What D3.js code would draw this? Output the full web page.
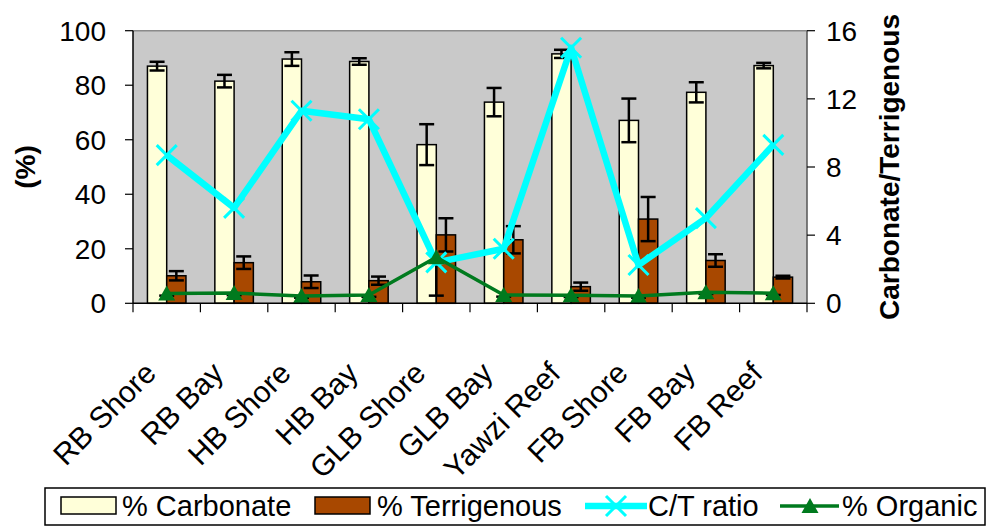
<!DOCTYPE html>
<html><head><meta charset="utf-8">
<script src="https://cdn.jsdelivr.net/npm/d3@7"></script>
<style>body{margin:0;background:#fff}svg{display:block}text{font-family:"Liberation Sans",Arial,sans-serif}</style>
</head><body><svg id="c" width="992" height="529"></svg>
<script>
const categories = ["RB Shore","RB Bay","HB Shore","HB Bay","GLB Shore","GLB Bay","Yawzi Reef","FB Shore","FB Bay","FB Reef"];
const carbonate = [87.0, 81.5, 89.6, 88.7, 58.2, 73.8, 91.5, 67.1, 77.4, 87.2];
const carbonateErr = [1.6, 2.3, 2.5, 1.2, 7.5, 5.2, 1.5, 8.0, 3.7, 1.0];
const terrigenous = [10.1, 14.9, 7.9, 8.3, 25.1, 23.3, 6.1, 30.9, 15.7, 9.6];
const terrigenousErr = [1.7, 2.3, 2.3, 1.5, 6.1, 5.0, 1.5, 8.1, 2.3, 0.5];
const ctRatio = [8.7, 5.6, 11.3, 10.8, 2.4, 3.2, 15.0, 2.25, 5.0, 9.3];
const organic = [0.57, 0.6, 0.43, 0.48, 2.7, 0.49, 0.47, 0.43, 0.65, 0.59];
const organicErrMinus = [0.12, 0.12, 0.1, 0.1, 2.25, 0.1, 0.1, 0.1, 0.1, 0.1];
const leftTicks = [0,20,40,60,80,100];
const rightTicks = [0,4,8,12,16];

const svg = d3.select("#c");
const L=133, R=807, T=30.7, B=303.3;
const x0 = d3.scaleBand().domain(categories).range([L,R]).padding(0);
const x1 = d3.scaleBand().domain(["c","t"]).range([0,x0.bandwidth()]).paddingInner(0).paddingOuter(0.75);
const yL = d3.scaleLinear().domain([0,100]).range([B,T]);
const yR = d3.scaleLinear().domain([0,16]).range([B,T]);
const cx = c => x0(c)+x0.bandwidth()/2;

svg.append("rect").attr("width",992).attr("height",529).attr("fill","#fff");
svg.append("rect").attr("x",L).attr("y",T).attr("width",R-L).attr("height",B-T).attr("fill","#c9c9c9");
svg.append("line").attr("x1",L).attr("x2",R).attr("y1",T).attr("y2",T).attr("stroke","#8a8a8a").attr("stroke-width",1.5);

// bars
const data = categories.map((c,i)=>({c,carb:carbonate[i],ce:carbonateErr[i],terr:terrigenous[i],te:terrigenousErr[i],ct:ctRatio[i],org:organic[i],oe:organicErrMinus[i]}));
const g = svg.append("g");
g.selectAll(".cb").data(data).join("rect")
 .attr("x",d=>x0(d.c)+x1("c")).attr("width",x1.bandwidth())
 .attr("y",d=>yL(d.carb)).attr("height",d=>B-yL(d.carb))
 .attr("fill","#ffffd9").attr("stroke","#000").attr("stroke-width",1.5);
g.selectAll(".tb").data(data).join("rect")
 .attr("x",d=>x0(d.c)+x1("t")).attr("width",x1.bandwidth())
 .attr("y",d=>yL(d.terr)).attr("height",d=>B-yL(d.terr))
 .attr("fill","#a84800").attr("stroke","#000").attr("stroke-width",1.5);

function errBar(xc, yTop, yBot, capTop=true){
  const e=g.append("g").attr("stroke","#000").attr("stroke-width",2.5);
  e.append("line").attr("x1",xc).attr("x2",xc).attr("y1",yTop).attr("y2",yBot);
  if(capTop) e.append("line").attr("x1",xc-7.5).attr("x2",xc+7.5).attr("y1",yTop).attr("y2",yTop);
  e.append("line").attr("x1",xc-7.5).attr("x2",xc+7.5).attr("y1",yBot).attr("y2",yBot);
}
data.forEach(d=>{
  const xc = x0(d.c)+x1("c")+x1.bandwidth()/2;
  errBar(xc, yL(d.carb+d.ce), yL(d.carb-d.ce));
  const xt = x0(d.c)+x1("t")+x1.bandwidth()/2;
  errBar(xt, yL(d.terr+d.te), yL(d.terr-d.te));
});
// organic error (minus)
data.forEach(d=>{
  const e=g.append("g").attr("stroke","#000").attr("stroke-width",2.5);
  e.append("line").attr("x1",cx(d.c)).attr("x2",cx(d.c)).attr("y1",yR(d.org)).attr("y2",yR(d.org-d.oe));
  e.append("line").attr("x1",cx(d.c)-7.5).attr("x2",cx(d.c)+7.5).attr("y1",yR(d.org-d.oe)).attr("y2",yR(d.org-d.oe));
});

// lines
const cyan="#00ffff", green="#007a1e";
svg.append("path").datum(data).attr("fill","none").attr("stroke",cyan).attr("stroke-width",6.5).attr("stroke-linejoin","round")
 .attr("d",d3.line().x(d=>cx(d.c)).y(d=>yR(d.ct)));
svg.append("g").selectAll("path").data(data).join("path")
 .attr("d",d=>{const X=cx(d.c),Y=yR(d.ct),s=10;return `M${X-s},${Y-s}L${X+s},${Y+s}M${X-s},${Y+s}L${X+s},${Y-s}`;})
 .attr("stroke",cyan).attr("stroke-width",3);
svg.append("path").datum(data).attr("fill","none").attr("stroke",green).attr("stroke-width",3.5)
 .attr("d",d3.line().x(d=>cx(d.c)).y(d=>yR(d.org)));
const tri=(X,Y)=>`M${X},${Y-8}L${X+8.5},${Y+7}L${X-8.5},${Y+7}Z`;
svg.append("g").selectAll("path").data(data).join("path")
 .attr("d",d=>tri(cx(d.c),yR(d.org))).attr("fill",green);

// axes
const fs=28;
const ax=svg.append("g");
ax.append("line").attr("x1",L).attr("x2",L).attr("y1",T).attr("y2",B).attr("stroke","#000").attr("stroke-width",1.5);
ax.append("line").attr("x1",R).attr("x2",R).attr("y1",T).attr("y2",B).attr("stroke","#555").attr("stroke-width",1.5);
ax.append("line").attr("x1",L).attr("x2",R).attr("y1",B).attr("y2",B).attr("stroke","#000").attr("stroke-width",1.5);
leftTicks.forEach(t=>{
  ax.append("line").attr("x1",L-8).attr("x2",L).attr("y1",yL(t)).attr("y2",yL(t)).attr("stroke","#000").attr("stroke-width",1.2);
  ax.append("text").attr("x",106).attr("y",yL(t)+10).attr("text-anchor","end").attr("font-size",fs).text(t);
});
rightTicks.forEach(t=>{
  ax.append("line").attr("x1",R).attr("x2",R+8).attr("y1",yR(t)).attr("y2",yR(t)).attr("stroke","#000").attr("stroke-width",1.2);
  ax.append("text").attr("x",826).attr("y",yR(t)+10).attr("text-anchor","start").attr("font-size",fs).text(t);
});
const bounds = categories.map(c=>x0(c)).concat([R]);
bounds.forEach(b=>ax.append("line").attr("x1",b).attr("x2",b).attr("y1",B).attr("y2",B+9).attr("stroke","#000").attr("stroke-width",1.2));
categories.forEach(c=>{
  ax.append("text").attr("transform",`translate(${cx(c)-9},375) rotate(-45)`).attr("text-anchor","end").attr("font-size",30).text(c);
});
ax.append("text").attr("transform",`translate(35,167) rotate(-90)`).attr("text-anchor","middle").attr("font-size",fs).attr("font-weight","bold").text("(%)");
ax.append("text").attr("transform",`translate(899,167) rotate(-90)`).attr("text-anchor","middle").attr("font-size",fs).attr("font-weight","bold").text("Carbonate/Terrigenous");

// legend
const lfs=29;
const lg=svg.append("g");
lg.append("rect").attr("x",45).attr("y",488).attr("width",940).attr("height",37).attr("fill","#fff").attr("stroke","#000").attr("stroke-width",1.5);
const ly=506, lb=516;
lg.append("rect").attr("x",61).attr("y",497).attr("width",55).attr("height",17).attr("fill","#ffffd9").attr("stroke","#000").attr("stroke-width",1.5);
lg.append("text").attr("x",122).attr("y",lb).attr("font-size",lfs).text("% Carbonate");
lg.append("rect").attr("x",315).attr("y",497).attr("width",55).attr("height",17).attr("fill","#a84800").attr("stroke","#000").attr("stroke-width",1.5);
lg.append("text").attr("x",377).attr("y",lb).attr("font-size",lfs).text("% Terrigenous");
lg.append("line").attr("x1",585).attr("x2",647).attr("y1",ly).attr("y2",ly).attr("stroke",cyan).attr("stroke-width",6.5);
lg.append("path").attr("d",`M606,${ly-10}L626,${ly+10}M606,${ly+10}L626,${ly-10}`).attr("stroke",cyan).attr("stroke-width",3);
lg.append("text").attr("x",648).attr("y",lb).attr("font-size",lfs).text("C/T ratio");
lg.append("line").attr("x1",780).attr("x2",839).attr("y1",ly).attr("y2",ly).attr("stroke",green).attr("stroke-width",3.5);
lg.append("path").attr("d",tri(810,ly)).attr("fill",green);
lg.append("text").attr("x",842).attr("y",lb).attr("font-size",lfs).text("% Organic");
</script></body></html>
